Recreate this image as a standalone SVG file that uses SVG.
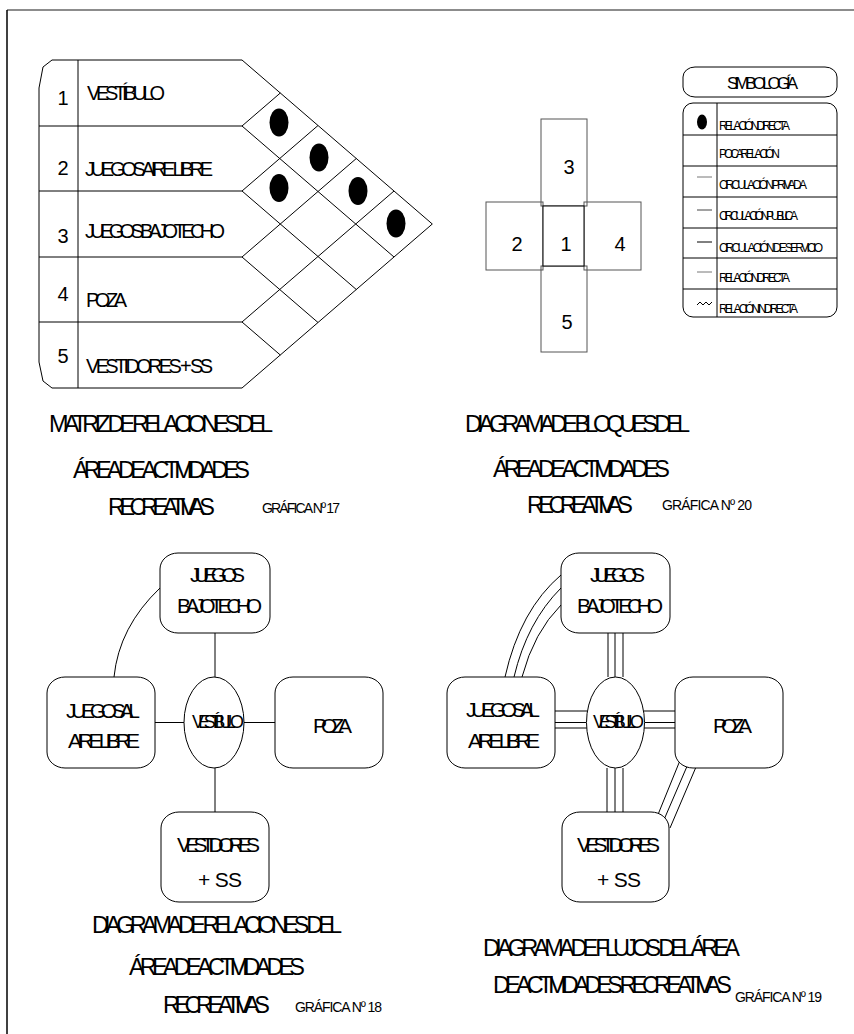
<svg xmlns="http://www.w3.org/2000/svg" width="854" height="1034" viewBox="0 0 854 1034">
<style>
text{font-family:"Liberation Sans",Arial,sans-serif;fill:#000}
.ln{fill:none;stroke:#000;stroke-width:1}
.gr{fill:none;stroke:#555;stroke-width:1}
.box{fill:#fff;stroke:#000;stroke-width:1}
.dot{fill:#000}
.lbl{font-size:20px}
.num{font-size:20px}
.ttl{font-size:23.5px}
.gf{font-size:14px}
.bub{font-size:21px}
.leg{font-size:12px}
</style>
<rect x="0" y="0" width="854" height="1034" fill="#fff"/>
<g id="frame">
<line x1="7" y1="10" x2="854" y2="10" stroke="#666" stroke-width="1.5"/>
<line x1="7" y1="10" x2="7" y2="1034" stroke="#000" stroke-width="1.5"/>
</g>

<g id="matrix">
<path class="ln" d="M242,60 H52 L43,67 L39,88 V362 L43,381 L52,388 H242 L432.3,224 L242,60 Z"/>
<line class="ln" x1="78" y1="60" x2="78" y2="388"/>
<path class="ln" d="M39,126 H242 M39,191 H242 M39,257 H242 M39,322 H242"/>
<path class="ln" d="M280.3,93 L242,126 L394,257 M318,125.5 L242,191 L356.3,289.5 M356.3,158.5 L242,257 L318,322.5 M394,191 L242,322 L280.3,355"/>
<ellipse class="dot" cx="279" cy="122.5" rx="9.5" ry="14"/>
<ellipse class="dot" cx="319" cy="157.5" rx="9.5" ry="14"/>
<ellipse class="dot" cx="279" cy="188" rx="9.5" ry="14"/>
<ellipse class="dot" cx="358" cy="191" rx="9.5" ry="14"/>
<ellipse class="dot" cx="396" cy="223.5" rx="9.5" ry="14"/>
<text class="num" x="63" y="105" text-anchor="middle">1</text>
<text class="num" x="63" y="175" text-anchor="middle">2</text>
<text class="num" x="63" y="243" text-anchor="middle">3</text>
<text class="num" x="63" y="301" text-anchor="middle">4</text>
<text class="num" x="63" y="363" text-anchor="middle">5</text>
<text class="lbl" x="87" y="100" textLength="78">VESTÍBULO</text>
<text class="lbl" x="85" y="176" textLength="128">JUEGOS AIRE LIBRE</text>
<text class="lbl" x="85" y="238" textLength="140">JUEGOS BAJO TECHO</text>
<text class="lbl" x="86" y="307" textLength="41">POZA</text>
<text class="lbl" x="86" y="373" textLength="127">VESTIDORES + SS</text>
</g>

<g id="matrix-title">
<text class="ttl" x="49" y="432" textLength="224">MATRIZ DE RELACIONES DEL</text>
<text class="ttl" x="73" y="478" textLength="177">ÁREA DE ACTIVIDADES</text>
<text class="ttl" x="108" y="515" textLength="107">RECREATIVAS</text>
<text class="gf" x="262" y="513" textLength="78">GRÁFICA Nº 17</text>
</g>

<g id="symbology">
<rect class="box" x="683" y="67" width="154" height="30" rx="12" ry="10"/>
<text x="727" y="89" font-size="17" textLength="71">SIMBOLOGÍA</text>
<rect class="box" x="683" y="103" width="154" height="214" rx="10" ry="10"/>
<line class="ln" x1="717" y1="103" x2="717" y2="317"/>
<path class="ln" d="M683,135 H837 M683,166 H837 M683,197 H837 M683,228 H837 M683,258 H837 M683,289 H837"/>
<ellipse class="dot" cx="702" cy="122" rx="5" ry="7.5"/>
<line x1="697" y1="177" x2="712" y2="177" stroke="#777" stroke-width="1"/>
<line x1="697" y1="210" x2="712" y2="210" stroke="#444" stroke-width="1"/>
<line x1="697" y1="242" x2="712" y2="242" stroke="#000" stroke-width="1"/>
<line x1="697" y1="272" x2="712" y2="272" stroke="#777" stroke-width="1"/>
<polyline class="ln" points="697,305 700,302 703,305 706,302 709,305 712,302"/>
<text class="leg" x="719" y="130" textLength="71">RELACIÓN DIRECTA</text>
<text class="leg" x="719" y="158" textLength="61">POCA RELACIÓN</text>
<text class="leg" x="719" y="189" textLength="88">CIRCULACIÓN PRIVADA</text>
<text class="leg" x="719" y="220" textLength="79">CIRCULACIÓN PUBLICA</text>
<text class="leg" x="719" y="252" textLength="104">CIRCULACIÓN DE SERVICIO</text>
<text class="leg" x="719" y="282" textLength="71">RELACIÓN DIRECTA</text>
<text class="leg" x="719" y="313" textLength="79">RELACIÓN INDIRECTA</text>
</g>

<g id="blocks">
<rect class="gr" x="541" y="119" width="46" height="87" fill="#fff"/>
<rect class="gr" x="541" y="266" width="46" height="86" fill="#fff"/>
<rect class="gr" x="486" y="202" width="57" height="68" fill="#fff"/>
<rect class="gr" x="584" y="202" width="57" height="68" fill="#fff"/>
<rect x="543" y="206" width="41" height="60" fill="#fff" stroke="#000" stroke-width="1"/>
<text class="num" x="569" y="174" text-anchor="middle" font-size="21">3</text>
<text class="num" x="517" y="251" text-anchor="middle" font-size="21">2</text>
<text class="num" x="566" y="251" text-anchor="middle" font-size="21">1</text>
<text class="num" x="620" y="251" text-anchor="middle" font-size="21">4</text>
<text class="num" x="567" y="329" text-anchor="middle" font-size="21">5</text>
</g>

<g id="blocks-title">
<text class="ttl" x="465" y="432" textLength="225">DIAGRAMA DE BLOQUES DEL</text>
<text class="ttl" x="493" y="477" textLength="177">ÁREA DE ACTIVIDADES</text>
<text class="ttl" x="527" y="513" textLength="106">RECREATIVAS</text>
<text class="gf" x="662" y="510" textLength="90">GRÁFICA Nº 20</text>
</g>

<g id="connectors">
<path class="ln" d="M215,633 V677 M155,722.5 H184 M244,722.5 H275 M215,768 V812"/>
<path class="ln" d="M114,677 Q119,627 160,588"/>
<path class="ln" d="M608,633 V677 M615,633 V677 M623,633 V677"/>
<path class="ln" d="M555,711 H587 M555,722.5 H586 M555,728 H587"/>
<path class="ln" d="M644,711 H675 M645,722.5 H675 M644,728 H675"/>
<path class="ln" d="M607,768 V812 M615,768 V812 M623,768 V812"/>
<path class="ln" d="M505,677 Q520,610 561,575 M514,677 Q527,622 561,588 M522,677 Q534,632 561,605"/>
<path class="ln" d="M681,758 L657,817 M688,764 L663,822 M696,767 L670,828"/>
</g>

<g id="l-bajo-techo">
<rect class="box" x="160" y="553" width="110" height="80" rx="18" ry="16"/>
<text class="bub" x="190" y="582" textLength="55">JUEGOS</text>
<text class="bub" x="177" y="613" textLength="85">BAJO TECHO</text>
</g>
<g id="l-aire-libre">
<rect class="box" x="47" y="677" width="108" height="91" rx="18" ry="16"/>
<text class="bub" x="66" y="718" textLength="74">JUEGOS AL</text>
<text class="bub" x="68" y="748" textLength="72">AIRE LIBRE</text>
</g>
<g id="l-vestibulo">
<ellipse class="box" cx="214" cy="722.5" rx="30" ry="45.5"/>
<text x="192" y="728" font-size="18" textLength="52">VESTÍBULO</text>
</g>
<g id="l-poza">
<rect class="box" x="275" y="677" width="108" height="91" rx="18" ry="16"/>
<text class="bub" x="313" y="733" textLength="39">POZA</text>
</g>
<g id="l-vestidores">
<rect class="box" x="161" y="812" width="108" height="90" rx="18" ry="16"/>
<text class="bub" x="177" y="852" textLength="83">VESTIDORES</text>
<text class="bub" x="198" y="887" textLength="44">+ SS</text>
</g>

<g id="l-title">
<text class="ttl" x="92" y="933" textLength="250">DIAGRAMA DE RELACIONES DEL</text>
<text class="ttl" x="129" y="975" textLength="176">ÁREA DE ACTIVIDADES</text>
<text class="ttl" x="163" y="1013" textLength="107">RECREATIVAS</text>
<text class="gf" x="295" y="1012" textLength="87">GRÁFICA Nº 18</text>
</g>

<g id="r-bajo-techo">
<rect class="box" x="561" y="553" width="109" height="80" rx="18" ry="16"/>
<text class="bub" x="590" y="582" textLength="55">JUEGOS</text>
<text class="bub" x="577" y="613" textLength="86">BAJO TECHO</text>
</g>
<g id="r-aire-libre">
<rect class="box" x="447" y="677" width="108" height="91" rx="18" ry="16"/>
<text class="bub" x="466" y="717" textLength="74">JUEGOS AL</text>
<text class="bub" x="468" y="748" textLength="72">AIRE LIBRE</text>
</g>
<g id="r-vestibulo">
<ellipse class="box" cx="615.5" cy="722.5" rx="29" ry="45.5"/>
<text x="593" y="728" font-size="18" textLength="51">VESTÍBULO</text>
</g>
<g id="r-poza">
<rect class="box" x="675" y="677" width="108" height="91" rx="18" ry="16"/>
<text class="bub" x="713" y="733" textLength="39">POZA</text>
</g>
<g id="r-vestidores">
<rect class="box" x="562" y="812" width="107" height="90" rx="18" ry="16"/>
<text class="bub" x="577" y="852" textLength="83">VESTIDORES</text>
<text class="bub" x="597" y="887" textLength="44">+ SS</text>
</g>

<g id="r-title">
<text class="ttl" x="483" y="956" textLength="257">DIAGRAMA DE FLUJOS DEL ÁREA</text>
<text class="ttl" x="493" y="993" textLength="239">DE ACTIVIDADES RECREATIVAS</text>
<text class="gf" x="735" y="1002" textLength="87">GRÁFICA Nº 19</text>
</g>
</svg>
